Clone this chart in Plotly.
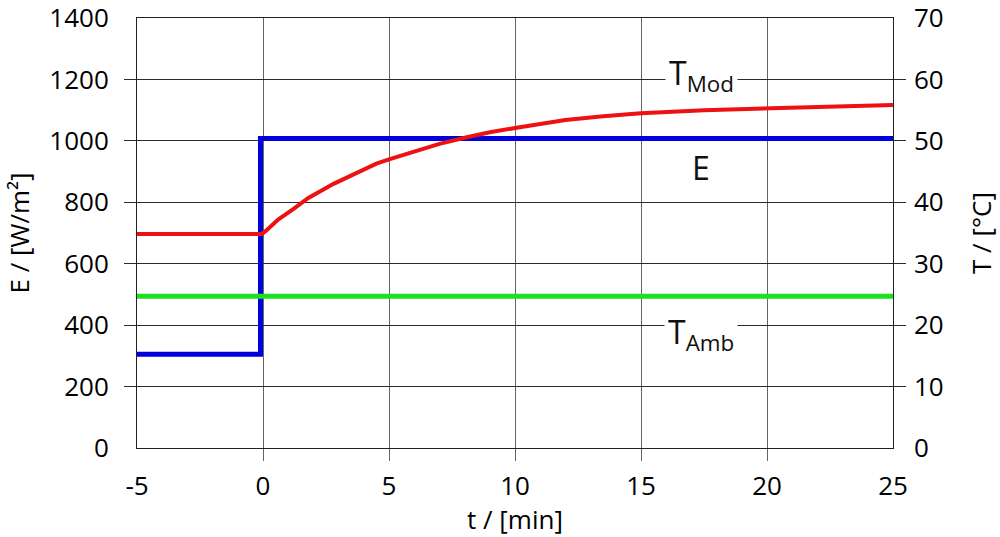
import plotly.graph_objects as go

# Irradiance step E (W/m²)
e_time = [-5, -0.1, -0.1, 25]
e_value = [305, 305, 1008, 1008]

# Ambient temperature (°C)
amb_time = [-5, 25]
amb_temp = [24.7, 24.7]

# Module temperature response (°C)
mod_time = [-5, -0.05, 0.1, 0.6, 1.2, 1.8, 2.8, 3.6, 4.5, 5, 6, 7, 8, 9,
            10, 11, 12, 13.5, 15, 17.5, 20, 22.5, 25]
mod_temp = [34.85, 34.85, 35.3, 37.2, 38.9, 40.7, 43.0, 44.6, 46.3, 47.0,
            48.2, 49.5, 50.5, 51.4, 52.1, 52.8, 53.4, 54.0, 54.5, 55.0,
            55.25, 55.5, 55.85]

x_ticks = [-5, 0, 5, 10, 15, 20, 25]
e_ticks = [0, 200, 400, 600, 800, 1000, 1200, 1400]
t_ticks = [0, 10, 20, 30, 40, 50, 60, 70]

FONT = "Open Sans"
GRID_H = "#2a2a2a"
GRID_V = "#666666"

fig = go.Figure()

fig.add_trace(go.Scatter(x=amb_time, y=amb_temp, yaxis="y2", mode="lines",
                         line=dict(color="#1ee01e", width=5), showlegend=False))
fig.add_trace(go.Scatter(x=mod_time, y=mod_temp, yaxis="y2", mode="lines",
                         line=dict(color="#ee1111", width=4), showlegend=False))
fig.add_trace(go.Scatter(x=e_time, y=e_value, mode="lines",
                         line=dict(color="#0000dd", width=5), showlegend=False))

# helper traces so the tick-only axes get drawn
fig.add_trace(go.Scatter(x=[None], y=[None], xaxis="x3", yaxis="y3", showlegend=False,
                         hoverinfo="skip"))
fig.add_trace(go.Scatter(x=[None], y=[None], xaxis="x3", yaxis="y4", showlegend=False,
                         hoverinfo="skip"))

tick_font = dict(family=FONT, size=26, color="#000000")
title_font = dict(family=FONT, size=26, color="#000000")

fig.update_layout(
    width=1000, height=537,
    margin=dict(l=137, r=107, t=18, b=89),
    paper_bgcolor="white", plot_bgcolor="white",
    xaxis=dict(range=[-5, 25], tickvals=x_ticks, ticktext=[str(v) for v in x_ticks],
               ticks="", showgrid=True, gridcolor=GRID_V, gridwidth=1,
               showline=True, mirror=True, linecolor="#222222", linewidth=1,
               zeroline=False, tickfont=tick_font, ticklabelstandoff=15,
               ticklabeloverflow="allow", automargin=False,
               title=dict(text="t / [min]", font=title_font, standoff=6)),
    yaxis=dict(range=[0, 1400], tickvals=e_ticks, ticks="", showgrid=True,
               gridcolor=GRID_H, gridwidth=1, showline=True, mirror=True,
               linecolor="#222222", linewidth=1, zeroline=False,
               tickfont=tick_font, ticklabelstandoff=22, ticklabeloverflow="allow",
               automargin=False,
               title=dict(text="E / [W/m²]", font=title_font, standoff=12)),
    yaxis2=dict(range=[0, 70], tickvals=t_ticks, overlaying="y", side="right",
                ticks="", showgrid=False, showline=False, zeroline=False,
                tickfont=tick_font, ticklabelstandoff=20, ticklabeloverflow="allow",
                automargin=False,
                title=dict(text="T / [°C]", font=title_font, standoff=30)),
    xaxis3=dict(range=[-5, 25], overlaying="x", anchor="y", tickvals=[0, 5, 10, 15, 20],
                ticks="outside", ticklen=12, tickcolor=GRID_V, tickwidth=1,
                showticklabels=False, showgrid=False, showline=False, zeroline=False,
                automargin=False),
    yaxis3=dict(range=[0, 1400], overlaying="y", anchor="x3", side="left",
                tickvals=[200, 400, 600, 800, 1000, 1200], ticks="outside", ticklen=12,
                tickcolor=GRID_H, tickwidth=1, showticklabels=False, showgrid=False,
                showline=False, zeroline=False, automargin=False),
    yaxis4=dict(range=[0, 70], overlaying="y", anchor="x3", side="right",
                tickvals=[10, 20, 30, 40, 50, 60], ticks="outside", ticklen=12,
                tickcolor=GRID_H, tickwidth=1, showticklabels=False, showgrid=False,
                showline=False, zeroline=False, automargin=False),
)

label_font = dict(family=FONT, size=32, color="#111111")
fig.add_annotation(x=17.4, y=1215, xref="x", yref="y", text="T<sub>Mod</sub>",
                   showarrow=False, font=label_font, bgcolor="white", borderpad=3)
fig.add_annotation(x=17.4, y=912, xref="x", yref="y", text="E",
                   showarrow=False, font=label_font)
fig.add_annotation(x=17.4, y=372, xref="x", yref="y", text="T<sub>Amb</sub>",
                   showarrow=False, font=label_font, bgcolor="white", borderpad=3)

fig.write_html("out.html")
